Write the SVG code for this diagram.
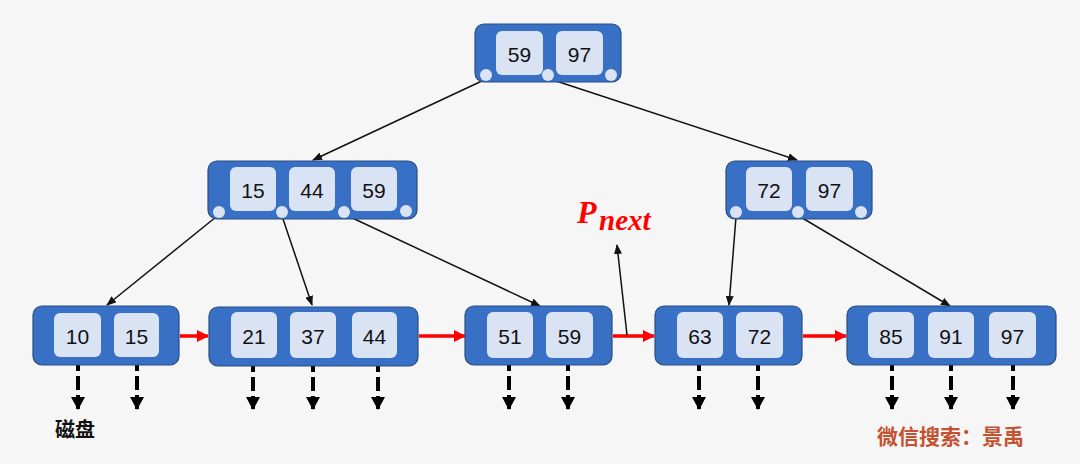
<svg xmlns="http://www.w3.org/2000/svg" width="1080" height="464" viewBox="0 0 1080 464">
<defs>
<style>
.node{fill:#3870c6;stroke:#2b4d7e;stroke-width:1.2}
.key{fill:#dae3f3}
.dot{fill:#dae3f3}
.kt{font-family:"Liberation Sans",Arial,sans-serif;font-size:21px;fill:#111;text-anchor:middle;dominant-baseline:central}
.ptr{stroke:#111;stroke-width:1.5;fill:none;marker-end:url(#ah)}
.red{stroke:#ff0000;stroke-width:3.5;fill:none;marker-end:url(#rh)}
.dash{stroke:#000;stroke-width:4;stroke-dasharray:14 5;fill:none;marker-end:url(#dh)}
</style>
<marker id="ah" markerUnits="userSpaceOnUse" markerWidth="10" markerHeight="8" refX="9" refY="4" orient="auto"><path d="M0,0 L10,4 L0,8 Z" fill="#111"/></marker>
<marker id="rh" markerUnits="userSpaceOnUse" markerWidth="12" markerHeight="12" refX="11" refY="6" orient="auto"><path d="M0,0 L12,6 L0,12 Z" fill="#ff0000"/></marker>
<marker id="dh" markerUnits="userSpaceOnUse" markerWidth="13" markerHeight="14" refX="12" refY="7" orient="auto"><path d="M0,0 L13,7 L0,14 Z" fill="#000"/></marker>
</defs>
<rect width="1080" height="464" fill="#f6f6f6"/>

<g id="connectors">
<line class="ptr" x1="484" y1="80" x2="313" y2="160"/>
<line class="ptr" x1="550" y1="79" x2="797" y2="160"/>
<line class="ptr" x1="216" y1="217" x2="107" y2="305"/>
<line class="ptr" x1="282" y1="216" x2="312" y2="305"/>
<line class="ptr" x1="346" y1="215" x2="540" y2="306"/>
<line class="ptr" x1="736" y1="217" x2="729" y2="305"/>
<line class="ptr" x1="799" y1="216" x2="950" y2="306"/>
<line class="red" x1="180" y1="336" x2="208" y2="336"/>
<line class="red" x1="419" y1="336" x2="465" y2="336"/>
<line class="red" x1="613" y1="336" x2="654" y2="336"/>
<line class="red" x1="803" y1="336" x2="846" y2="336"/>
<line class="ptr" x1="627" y1="335" x2="617" y2="245"/>
<line class="dash" x1="78" y1="357" x2="78" y2="409"/>
<line class="dash" x1="137" y1="357" x2="137" y2="409"/>
<line class="dash" x1="253" y1="358" x2="253" y2="409"/>
<line class="dash" x1="313" y1="358" x2="313" y2="409"/>
<line class="dash" x1="378" y1="358" x2="378" y2="409"/>
<line class="dash" x1="509" y1="357" x2="509" y2="409"/>
<line class="dash" x1="568" y1="357" x2="568" y2="409"/>
<line class="dash" x1="699" y1="357" x2="699" y2="409"/>
<line class="dash" x1="758" y1="357" x2="758" y2="409"/>
<line class="dash" x1="892" y1="357" x2="892" y2="409"/>
<line class="dash" x1="951" y1="357" x2="951" y2="409"/>
<line class="dash" x1="1013" y1="357" x2="1013" y2="409"/>
</g>

<g id="root">
<rect class="node" x="475" y="24" width="146" height="58" rx="9"/>
<rect class="key" x="496" y="31" width="47" height="44" rx="6"/>
<rect class="key" x="556" y="31" width="47" height="44" rx="6"/>
<text class="kt" x="519.5" y="54">59</text>
<text class="kt" x="579.5" y="54">97</text>
<circle class="dot" cx="486" cy="75" r="6"/>
<circle class="dot" cx="548" cy="75" r="6"/>
<circle class="dot" cx="611" cy="75" r="6"/>
</g>

<g id="mid-left">
<rect class="node" x="208" y="161" width="209" height="58" rx="9"/>
<rect class="key" x="230" y="167" width="46" height="44" rx="6"/>
<rect class="key" x="289" y="167" width="46" height="44" rx="6"/>
<rect class="key" x="351" y="167" width="46" height="44" rx="6"/>
<text class="kt" x="253" y="190">15</text>
<text class="kt" x="312" y="190">44</text>
<text class="kt" x="374" y="190">59</text>
<circle class="dot" cx="219" cy="212" r="6"/>
<circle class="dot" cx="282" cy="212" r="6"/>
<circle class="dot" cx="344" cy="212" r="6"/>
<circle class="dot" cx="406" cy="211" r="6"/>
</g>

<g id="mid-right">
<rect class="node" x="726" y="161" width="146" height="58" rx="9"/>
<rect class="key" x="746" y="167" width="46" height="44" rx="6"/>
<rect class="key" x="806" y="167" width="47" height="44" rx="6"/>
<text class="kt" x="769" y="190">72</text>
<text class="kt" x="829.5" y="190">97</text>
<circle class="dot" cx="736" cy="212" r="6"/>
<circle class="dot" cx="798" cy="212" r="6"/>
<circle class="dot" cx="861" cy="212" r="6"/>
</g>

<g id="leaf1">
<rect class="node" x="33" y="306" width="146" height="59" rx="9"/>
<rect class="key" x="54" y="313" width="47" height="44" rx="6"/>
<rect class="key" x="114" y="313" width="45" height="44" rx="6"/>
<text class="kt" x="77.5" y="336">10</text>
<text class="kt" x="136.5" y="336">15</text>
</g>

<g id="leaf2">
<rect class="node" x="209" y="307" width="209" height="59" rx="9"/>
<rect class="key" x="231" y="312" width="46" height="46" rx="6"/>
<rect class="key" x="290" y="312" width="46" height="46" rx="6"/>
<rect class="key" x="352" y="312" width="45" height="46" rx="6"/>
<text class="kt" x="254" y="336">21</text>
<text class="kt" x="313" y="336">37</text>
<text class="kt" x="374.5" y="336">44</text>
</g>

<g id="leaf3">
<rect class="node" x="465" y="306" width="147" height="59" rx="9"/>
<rect class="key" x="487" y="312" width="46" height="46" rx="6"/>
<rect class="key" x="546" y="312" width="47" height="46" rx="6"/>
<text class="kt" x="510" y="336">51</text>
<text class="kt" x="569.5" y="336">59</text>
</g>

<g id="leaf4">
<rect class="node" x="655" y="306" width="147" height="59" rx="9"/>
<rect class="key" x="677" y="312" width="46" height="46" rx="6"/>
<rect class="key" x="736" y="312" width="47" height="46" rx="6"/>
<text class="kt" x="700" y="336">63</text>
<text class="kt" x="759.5" y="336">72</text>
</g>

<g id="leaf5">
<rect class="node" x="847" y="306" width="209" height="59" rx="9"/>
<rect class="key" x="868" y="312" width="46" height="46" rx="6"/>
<rect class="key" x="928" y="312" width="46" height="46" rx="6"/>
<rect class="key" x="989" y="312" width="47" height="46" rx="6"/>
<text class="kt" x="891" y="336">85</text>
<text class="kt" x="951" y="336">91</text>
<text class="kt" x="1012.5" y="336">97</text>
</g>

<g id="pnext-label">
<text x="577" y="223" font-family="'Liberation Serif','DejaVu Serif',serif" font-weight="bold" font-style="italic" font-size="32" fill="#ff0000">P</text>
<text x="599" y="230" font-family="'Liberation Serif','DejaVu Serif',serif" font-weight="bold" font-style="italic" font-size="29" fill="#ff0000">next</text>
</g>

<text id="disk-label" x="55" y="437" font-family="'Liberation Sans','Noto Sans CJK SC',sans-serif" font-weight="bold" font-size="20" fill="#111">磁盘</text>
<text id="watermark" x="877" y="444" font-family="'Noto Sans CJK SC',sans-serif" font-weight="bold" font-size="21" fill="#c4512f">微信搜索：景禹</text>
</svg>
